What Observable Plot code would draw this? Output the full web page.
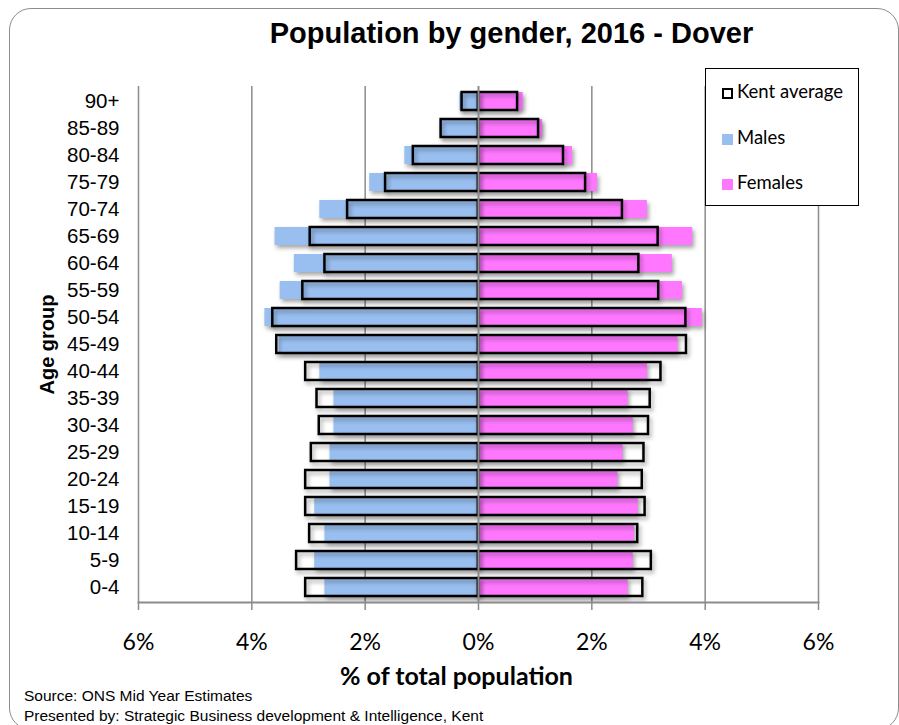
<!DOCTYPE html>
<html>
<head>
<meta charset="utf-8">
<script src="https://cdn.jsdelivr.net/npm/d3@7"></script>
<script src="https://cdn.jsdelivr.net/npm/@observablehq/plot@0.6"></script>
<style>
  html, body { margin: 0; padding: 0; background: #fff; }
  #wrap { position: relative; width: 899px; height: 725px; overflow: hidden; font-family: "Liberation Sans", Arial, sans-serif; }
  #border { position: absolute; left: 9px; top: 8px; width: 888px; height: 720px; border: 1.5px solid #8c8c8c; border-radius: 22px; }
  #title { position: absolute; left: 0; top: 0; width: 899px; height: 66px; line-height: 66px; text-align: center; font-weight: bold; font-size: 29px; box-sizing: border-box; padding-left: 124px; }
  #chart { position: absolute; left: 0; top: 60px; }
  #chart svg { overflow: visible; }
  #chart svg g[aria-label="bar"] { filter: drop-shadow(2px 3px 2px rgba(0,0,0,0.35)); }
  .cap { position: absolute; left: 24px; font-size: 15.5px; height: 20px; line-height: 20px; white-space: nowrap; }
  #legend { position: absolute; left: 705px; top: 68px; width: 152px; height: 136px; border: 1.5px solid #000; background: #fff; font-family: Lato, sans-serif; font-size: 18.5px; }
  .li { position: absolute; left: 16px; height: 20px; line-height: 20px; }
  .sw { display: inline-block; width: 11px; height: 11px; margin-right: 4px; vertical-align: -1px; box-sizing: border-box; }
</style>
</head>
<body>
<div id="wrap">
  <div id="border"></div>
  <div id="title">Population by gender, 2016 - Dover</div>
  <div id="chart"></div>
  <div class="cap" style="top:686px">Source: ONS Mid Year Estimates</div>
  <div class="cap" style="top:706px">Presented by: Strategic Business development &amp; Intelligence, Kent</div>
  <div id="legend">
    <div class="li" style="top:12px"><span class="sw" style="border:2px solid #000;background:#fff"></span>Kent average</div>
    <div class="li" style="top:58px"><span class="sw" style="background:#99bff0"></span>Males</div>
    <div class="li" style="top:103px"><span class="sw" style="background:#ff77ff"></span>Females</div>
  </div>
</div>
<script>
const ages = ["0-4","5-9","10-14","15-19","20-24","25-29","30-34","35-39","40-44","45-49","50-54","55-59","60-64","65-69","70-74","75-79","80-84","85-89","90+"];
const males       = [2.71, 2.89, 2.71, 2.89, 2.62, 2.62, 2.55, 2.55, 2.80, 3.52, 3.77, 3.50, 3.25, 3.59, 2.80, 1.92, 1.30, 0.66, 0.33];
const females     = [2.64, 2.73, 2.75, 2.82, 2.46, 2.55, 2.73, 2.64, 2.98, 3.52, 3.95, 3.60, 3.42, 3.78, 2.98, 2.10, 1.66, 1.13, 0.79];
const kentMales   = [3.05, 3.21, 2.98, 3.05, 3.05, 2.95, 2.81, 2.85, 3.05, 3.56, 3.63, 3.10, 2.71, 2.97, 2.31, 1.64, 1.15, 0.66, 0.29];
const kentFemales = [2.90, 3.05, 2.81, 2.94, 2.89, 2.92, 3.00, 3.03, 3.22, 3.67, 3.66, 3.18, 2.83, 3.17, 2.54, 1.89, 1.50, 1.06, 0.69];
const xTicks = [-6, -4, -2, 0, 2, 4, 6];

const rows = ages.map((age, i) => ({age, male: males[i], female: females[i], kentM: kentMales[i], kentF: kentFemales[i]}));
const blue = "#99bff0", pink = "#ff77ff", grid = "#8c8c8c";

const chart = Plot.plot({
  width: 899,
  height: 630,
  marginTop: 26,
  marginBottom: 88,
  marginLeft: 138,
  marginRight: 81,
  style: {fontFamily: "'Liberation Sans', Arial, sans-serif", background: "transparent"},
  x: {domain: [-6, 6]},
  y: {domain: ages.slice().reverse(), paddingInner: 0.34, paddingOuter: 0.17},
  marks: [
    Plot.ruleX(xTicks.filter(d => d !== 0), {stroke: grid, strokeWidth: 1.5}),
    Plot.barX(rows, {x1: 0, x2: d => -d.male, y: "age", fill: blue}),
    Plot.barX(rows, {x1: 0, x2: "female", y: "age", fill: pink}),
    Plot.barX(rows, {x1: 0, x2: d => -d.kentM, y: "age", fill: "none", stroke: "#000", strokeWidth: 2.5}),
    Plot.barX(rows, {x1: 0, x2: "kentF", y: "age", fill: "none", stroke: "#000", strokeWidth: 2.5}),
    Plot.ruleX([0], {stroke: grid, strokeWidth: 2}),
    Plot.frame({anchor: "bottom", stroke: grid, strokeWidth: 2}),
    Plot.axisX({ticks: xTicks, tickFormat: d => Math.abs(d) + "%", tickSize: 8, tickPadding: 23, stroke: grid, strokeWidth: 1.5, fontSize: 23, fontFamily: "Lato, sans-serif", label: null}),
    Plot.axisY({tickSize: 0, tickPadding: 19, fontSize: 20.5, label: null}),
    Plot.text(["Age group"], {frameAnchor: "left", rotate: -90, dx: -91, textAnchor: "middle", lineAnchor: "middle", fontWeight: "bold", fontSize: 20, fill: "#000"}),
    Plot.text(["% of total population"], {frameAnchor: "bottom", dy: 74, dx: -22, textAnchor: "middle", lineAnchor: "middle", fontWeight: "bold", fontSize: 25, fontFamily: "Lato, sans-serif", fill: "#000"})
  ]
});
document.getElementById("chart").appendChild(chart);
</script>
</body>
</html>
